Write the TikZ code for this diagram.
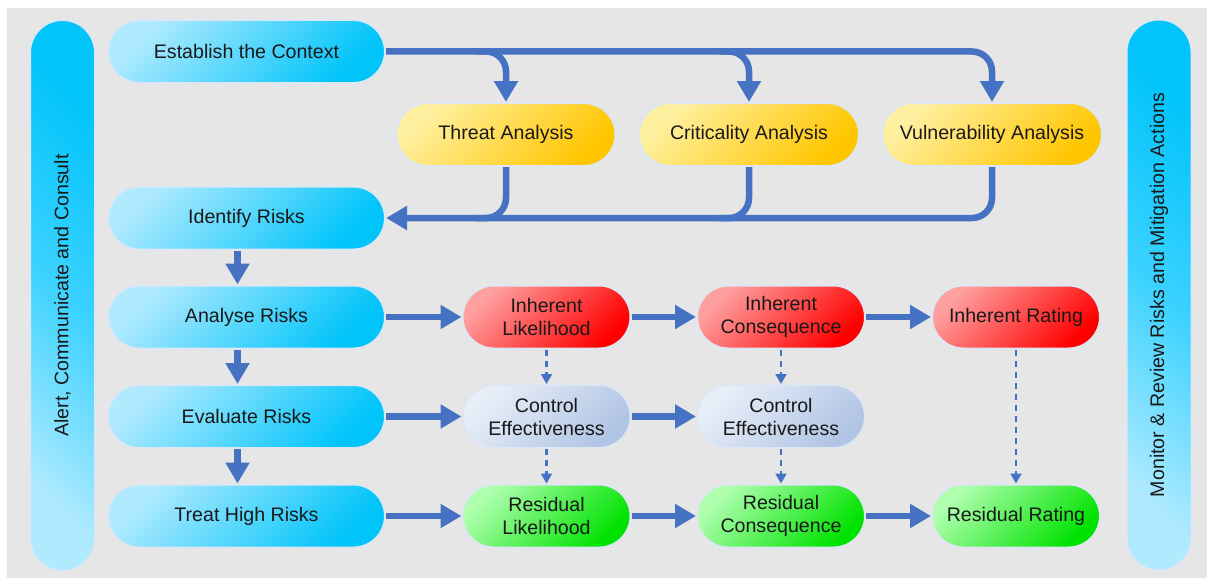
\documentclass[tikz,border=0pt]{standalone}
\usepackage{fontspec}
\setmainfont{Liberation Sans}
\usetikzlibrary{arrows.meta,calc}

\definecolor{bgcol}{RGB}{230,230,230}
\definecolor{arr}{RGB}{70,114,196}
\definecolor{txt}{RGB}{25,25,25}
\definecolor{halo}{RGB}{222,230,242}
\definecolor{cyL}{RGB}{175,234,255}
\definecolor{cyM}{RGB}{60,210,255}
\definecolor{cyD}{RGB}{0,196,250}
\definecolor{yeL}{RGB}{255,240,160}
\definecolor{yeD}{RGB}{255,198,0}
\definecolor{reL}{RGB}{255,160,160}
\definecolor{reD}{RGB}{255,0,0}
\definecolor{grL}{RGB}{175,255,175}
\definecolor{grD}{RGB}{0,226,0}
\definecolor{blL}{RGB}{232,238,248}
\definecolor{blD}{RGB}{176,196,228}

\begin{document}
\begin{tikzpicture}[x=1pt,y=-1pt,
  box/.style={rounded corners=31.5pt, minimum height=63pt, inner sep=0pt, align=center,
    text=txt, font=\fontsize{19.6}{23}\selectfont, draw=halo, line width=2pt},
  cyanbox/.style={box, top color=cyL, bottom color=cyD, shading angle=45},
  yelbox/.style={box, top color=yeL, bottom color=yeD, shading angle=45},
  redbox/.style={box, top color=reL, bottom color=reD, shading angle=45},
  grnbox/.style={box, top color=grL, bottom color=grD, shading angle=45},
  blubox/.style={box, top color=blL, bottom color=blD, shading angle=45},
  barbox/.style={box, rotate=90, rounded corners=32.5pt, minimum height=65pt, minimum width=551pt,
    top color=cyL, bottom color=cyD, middle color=cyM, shading angle=135},
  fat/.style={draw=arr, line width=6.5pt, -{Triangle[width=23pt,length=21pt]}},
  fatline/.style={draw=arr, line width=6.5pt},
  dasharr/.style={draw=arr, line width=2.2pt, dash pattern=on 6pt off 5pt, -{Triangle[width=11pt,length=10pt]}}
]
\useasboundingbox (0,0) rectangle (1207,578);
\fill[white] (0,0) rectangle (1207,578);
\fill[bgcol] (7,8) rectangle (1207,578);

% side bars
\node[barbox] (alert) at (62.5,295.5) {Alert, Communicate and Consult};
\node[barbox] (monitor) at (1159,295) {Monitor \& Review Risks and Mitigation Actions};

% left column
\node[cyanbox, minimum width=277pt] (ctx) at (246.5,51.5) {Establish the Context};
\node[cyanbox, minimum width=277pt] (ident) at (246.5,218) {Identify Risks};
\node[cyanbox, minimum width=277pt] (anal) at (246.5,317) {Analyse Risks};
\node[cyanbox, minimum width=277pt] (eval) at (246.5,416.5) {Evaluate Risks};
\node[cyanbox, minimum width=277pt] (treat) at (246.5,516) {Treat High Risks};

% analysis row
\node[yelbox, minimum width=219pt] (threat) at (506,134.5) {Threat Analysis};
\node[yelbox, minimum width=220pt] (crit) at (749,134.5) {Criticality Analysis};
\node[yelbox, minimum width=220pt] (vuln) at (992,134.5) {Vulnerability Analysis};

% grid
\node[redbox, minimum width=168pt] (il) at (546.5,317) {Inherent\\Likelihood};
\node[redbox, minimum width=168pt] (ic) at (781,317) {Inherent\\Consequence};
\node[redbox, minimum width=168pt] (ir) at (1016,317) {Inherent Rating};
\node[blubox, minimum width=168pt] (ce1) at (546.5,416.5) {Control\\Effectiveness};
\node[blubox, minimum width=168pt] (ce2) at (781,416.5) {Control\\Effectiveness};
\node[grnbox, minimum width=168pt] (rl) at (546.5,516) {Residual\\Likelihood};
\node[grnbox, minimum width=168pt] (rc) at (781,516) {Residual\\Consequence};
\node[grnbox, minimum width=168pt] (rr) at (1016,516) {Residual Rating};

% top distribution
\draw[fat, rounded corners=20pt] (ctx.east) -| (vuln.north);
\draw[fat, rounded corners=20pt] ($(threat.north |- ctx.east)+(-30,0)$) -| (threat.north);
\draw[fat, rounded corners=20pt] ($(crit.north |- ctx.east)+(-30,0)$) -| (crit.north);

% collection
\draw[fat, rounded corners=20pt] (vuln.south) |- (ident.east);
\draw[fatline, rounded corners=20pt] (threat.south) |- ($(threat.south |- ident.east)+(-30,0)$);
\draw[fatline, rounded corners=20pt] (crit.south) |- ($(crit.south |- ident.east)+(-30,0)$);

% left column flow
\draw[fat] ([xshift=-9pt]ident.south) -- ([xshift=-9pt]anal.north);
\draw[fat] ([xshift=-9pt]anal.south) -- ([xshift=-9pt]eval.north);
\draw[fat] ([xshift=-9pt]eval.south) -- ([xshift=-9pt]treat.north);

% rows
\draw[fat] (anal) -- (il);
\draw[fat] (il) -- (ic);
\draw[fat] (ic) -- (ir);
\draw[fat] (eval) -- (ce1);
\draw[fat] (ce1) -- (ce2);
\draw[fat] (treat) -- (rl);
\draw[fat] (rl) -- (rc);
\draw[fat] (rc) -- (rr);

% dashed
\draw[dasharr] (il) -- (ce1);
\draw[dasharr] (ce1) -- (rl);
\draw[dasharr] (ic) -- (ce2);
\draw[dasharr] (ce2) -- (rc);
\draw[dasharr] (ir) -- (rr);
\end{tikzpicture}
\end{document}
